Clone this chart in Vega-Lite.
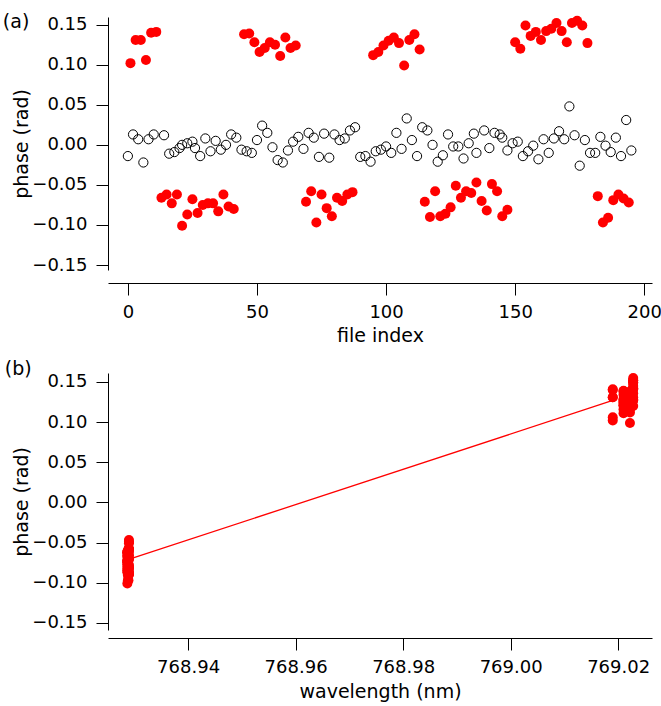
{
  "$schema": "https://vega.github.io/schema/vega-lite/v6.json",
  "background": "white",
  "padding": {"left": 2, "top": 12, "right": 0, "bottom": 5},
  "spacing": 14,
  "config": {
    "font": "DejaVu Sans",
    "view": {"stroke": null},
    "axis": {
      "domainColor": "black", "tickColor": "black", "labelColor": "black", "titleColor": "black",
      "labelFont": "DejaVu Sans", "titleFont": "DejaVu Sans",
      "labelFontSize": 18, "titleFontSize": 19, "titleFontWeight": "normal",
      "tickSize": 12, "grid": false, "domainWidth": 1, "tickWidth": 1
    },
    "title": {"fontSize": 19, "fontWeight": "normal", "font": "DejaVu Sans", "color": "black", "anchor": "start", "frame": "bounds", "offset": 0}
  },
  "datasets": {
    "black": [
      {"file": 0, "phase": -0.014}, {"file": 2, "phase": 0.013}, {"file": 4, "phase": 0.007}, {"file": 6, "phase": -0.022},
      {"file": 8, "phase": 0.007}, {"file": 10, "phase": 0.013}, {"file": 14, "phase": 0.012}, {"file": 16, "phase": -0.011},
      {"file": 18, "phase": -0.009}, {"file": 20, "phase": -0.004}, {"file": 21, "phase": 0.0}, {"file": 23, "phase": 0.002},
      {"file": 25, "phase": 0.004}, {"file": 26, "phase": -0.004}, {"file": 28, "phase": -0.014}, {"file": 30, "phase": 0.008},
      {"file": 32, "phase": -0.008}, {"file": 34, "phase": 0.005}, {"file": 36, "phase": -0.006}, {"file": 38, "phase": 0.0},
      {"file": 40, "phase": 0.013}, {"file": 42, "phase": 0.009}, {"file": 44, "phase": -0.006}, {"file": 46, "phase": -0.008},
      {"file": 48, "phase": -0.01}, {"file": 50, "phase": 0.006}, {"file": 52, "phase": 0.024}, {"file": 54, "phase": 0.015},
      {"file": 56, "phase": -0.003}, {"file": 58, "phase": -0.019}, {"file": 60, "phase": -0.022}, {"file": 62, "phase": -0.007},
      {"file": 64, "phase": 0.004}, {"file": 66, "phase": 0.01}, {"file": 68, "phase": -0.005}, {"file": 70, "phase": 0.015},
      {"file": 72, "phase": 0.009}, {"file": 74, "phase": -0.015}, {"file": 76, "phase": 0.014}, {"file": 78, "phase": -0.016},
      {"file": 80, "phase": 0.013}, {"file": 82, "phase": 0.006}, {"file": 84, "phase": 0.008}, {"file": 86, "phase": 0.018},
      {"file": 88, "phase": 0.022}, {"file": 90, "phase": -0.015}, {"file": 92, "phase": -0.014}, {"file": 94, "phase": -0.021},
      {"file": 96, "phase": -0.008}, {"file": 98, "phase": -0.006}, {"file": 100, "phase": -0.002}, {"file": 102, "phase": -0.01},
      {"file": 104, "phase": 0.015}, {"file": 106, "phase": -0.005}, {"file": 108, "phase": 0.033}, {"file": 110, "phase": 0.006},
      {"file": 112, "phase": -0.014}, {"file": 114, "phase": 0.022}, {"file": 116, "phase": 0.018}, {"file": 118, "phase": 0.0},
      {"file": 120, "phase": -0.021}, {"file": 122, "phase": -0.013}, {"file": 124, "phase": 0.013}, {"file": 126, "phase": -0.002},
      {"file": 128, "phase": -0.002}, {"file": 130, "phase": -0.017}, {"file": 132, "phase": 0.002}, {"file": 134, "phase": 0.014},
      {"file": 135, "phase": -0.01}, {"file": 138, "phase": 0.018}, {"file": 140, "phase": -0.004}, {"file": 142, "phase": 0.015},
      {"file": 144, "phase": 0.013}, {"file": 145, "phase": 0.009}, {"file": 147, "phase": -0.007}, {"file": 149, "phase": 0.002},
      {"file": 151, "phase": 0.004}, {"file": 153, "phase": -0.014}, {"file": 155, "phase": -0.008}, {"file": 157, "phase": -0.001},
      {"file": 159, "phase": -0.018}, {"file": 161, "phase": 0.007}, {"file": 163, "phase": -0.01}, {"file": 165, "phase": 0.008},
      {"file": 167, "phase": 0.017}, {"file": 169, "phase": 0.007}, {"file": 171, "phase": 0.048}, {"file": 173, "phase": 0.012},
      {"file": 175, "phase": -0.026}, {"file": 177, "phase": 0.006}, {"file": 179, "phase": -0.01}, {"file": 181, "phase": -0.01},
      {"file": 183, "phase": 0.01}, {"file": 185, "phase": -0.001}, {"file": 187, "phase": -0.009}, {"file": 189, "phase": 0.009},
      {"file": 191, "phase": -0.014}, {"file": 193, "phase": 0.031}, {"file": 195, "phase": -0.007}
    ],
    "red": [
      {"file": 1, "phase": 0.102, "wavelength": 769.019}, {"file": 3, "phase": 0.131, "wavelength": 769.019},
      {"file": 5, "phase": 0.131, "wavelength": 769.019}, {"file": 7, "phase": 0.106, "wavelength": 769.019},
      {"file": 9, "phase": 0.14, "wavelength": 769.019}, {"file": 11, "phase": 0.141, "wavelength": 769.019},
      {"file": 13, "phase": -0.066, "wavelength": 768.9287}, {"file": 15, "phase": -0.062, "wavelength": 768.9287},
      {"file": 17, "phase": -0.073, "wavelength": 768.9287}, {"file": 19, "phase": -0.062, "wavelength": 768.9287},
      {"file": 21, "phase": -0.101, "wavelength": 768.9287}, {"file": 23, "phase": -0.087, "wavelength": 768.9287},
      {"file": 25, "phase": -0.068, "wavelength": 768.9287}, {"file": 27, "phase": -0.085, "wavelength": 768.9287},
      {"file": 29, "phase": -0.075, "wavelength": 768.9287}, {"file": 31, "phase": -0.073, "wavelength": 768.9287},
      {"file": 33, "phase": -0.073, "wavelength": 768.9287}, {"file": 35, "phase": -0.083, "wavelength": 768.9287},
      {"file": 37, "phase": -0.062, "wavelength": 768.9287}, {"file": 39, "phase": -0.077, "wavelength": 768.9287},
      {"file": 41, "phase": -0.08, "wavelength": 768.9287},
      {"file": 45, "phase": 0.138, "wavelength": 769.021}, {"file": 47, "phase": 0.139, "wavelength": 769.021},
      {"file": 49, "phase": 0.128, "wavelength": 769.021}, {"file": 51, "phase": 0.116, "wavelength": 769.021},
      {"file": 53, "phase": 0.121, "wavelength": 769.021}, {"file": 55, "phase": 0.128, "wavelength": 769.021},
      {"file": 57, "phase": 0.125, "wavelength": 769.021}, {"file": 59, "phase": 0.111, "wavelength": 769.021},
      {"file": 61, "phase": 0.134, "wavelength": 769.021}, {"file": 63, "phase": 0.121, "wavelength": 769.021},
      {"file": 65, "phase": 0.124, "wavelength": 769.021},
      {"file": 69, "phase": -0.071, "wavelength": 768.9289}, {"file": 71, "phase": -0.058, "wavelength": 768.9289},
      {"file": 73, "phase": -0.097, "wavelength": 768.9289}, {"file": 75, "phase": -0.062, "wavelength": 768.9289},
      {"file": 77, "phase": -0.079, "wavelength": 768.9289}, {"file": 79, "phase": -0.089, "wavelength": 768.9289},
      {"file": 81, "phase": -0.066, "wavelength": 768.9289}, {"file": 83, "phase": -0.07, "wavelength": 768.9289},
      {"file": 85, "phase": -0.062, "wavelength": 768.9289}, {"file": 87, "phase": -0.059, "wavelength": 768.9289},
      {"file": 95, "phase": 0.112, "wavelength": 769.0222}, {"file": 97, "phase": 0.116, "wavelength": 769.0222},
      {"file": 99, "phase": 0.124, "wavelength": 769.0222}, {"file": 101, "phase": 0.13, "wavelength": 769.0222},
      {"file": 103, "phase": 0.134, "wavelength": 769.0222}, {"file": 105, "phase": 0.127, "wavelength": 769.0222},
      {"file": 107, "phase": 0.099, "wavelength": 769.0222}, {"file": 109, "phase": 0.131, "wavelength": 769.0222},
      {"file": 111, "phase": 0.138, "wavelength": 769.0222}, {"file": 113, "phase": 0.119, "wavelength": 769.0222},
      {"file": 115, "phase": -0.071, "wavelength": 768.929}, {"file": 117, "phase": -0.09, "wavelength": 768.929},
      {"file": 119, "phase": -0.058, "wavelength": 768.929}, {"file": 121, "phase": -0.089, "wavelength": 768.929},
      {"file": 123, "phase": -0.086, "wavelength": 768.929}, {"file": 125, "phase": -0.078, "wavelength": 768.929},
      {"file": 127, "phase": -0.051, "wavelength": 768.929}, {"file": 129, "phase": -0.066, "wavelength": 768.929},
      {"file": 131, "phase": -0.058, "wavelength": 768.929}, {"file": 133, "phase": -0.06, "wavelength": 768.929},
      {"file": 135, "phase": -0.047, "wavelength": 768.929}, {"file": 137, "phase": -0.07, "wavelength": 768.929},
      {"file": 139, "phase": -0.082, "wavelength": 768.929}, {"file": 141, "phase": -0.049, "wavelength": 768.929},
      {"file": 143, "phase": -0.058, "wavelength": 768.929}, {"file": 145, "phase": -0.089, "wavelength": 768.929},
      {"file": 147, "phase": -0.081, "wavelength": 768.929},
      {"file": 150, "phase": 0.128, "wavelength": 769.0228}, {"file": 152, "phase": 0.12, "wavelength": 769.0228},
      {"file": 154, "phase": 0.149, "wavelength": 769.0228}, {"file": 156, "phase": 0.136, "wavelength": 769.0228},
      {"file": 158, "phase": 0.141, "wavelength": 769.0228}, {"file": 160, "phase": 0.131, "wavelength": 769.0228},
      {"file": 162, "phase": 0.142, "wavelength": 769.0228}, {"file": 164, "phase": 0.145, "wavelength": 769.0228},
      {"file": 166, "phase": 0.152, "wavelength": 769.0228}, {"file": 168, "phase": 0.142, "wavelength": 769.0228},
      {"file": 170, "phase": 0.128, "wavelength": 769.0228}, {"file": 172, "phase": 0.152, "wavelength": 769.0228},
      {"file": 174, "phase": 0.155, "wavelength": 769.0228}, {"file": 176, "phase": 0.149, "wavelength": 769.0228},
      {"file": 178, "phase": 0.127, "wavelength": 769.0228},
      {"file": 182, "phase": -0.064, "wavelength": 768.9288}, {"file": 184, "phase": -0.097, "wavelength": 768.9288},
      {"file": 186, "phase": -0.091, "wavelength": 768.9288}, {"file": 188, "phase": -0.069, "wavelength": 768.9288},
      {"file": 190, "phase": -0.062, "wavelength": 768.9288}, {"file": 192, "phase": -0.067, "wavelength": 768.9288},
      {"file": 194, "phase": -0.072, "wavelength": 768.9288}
    ],
    "fit": [
      {"wavelength": 768.9288, "phase": -0.0714},
      {"wavelength": 769.019, "phase": 0.127}
    ]
  },
  "vconcat": [
    {
      "width": 544,
      "height": 253,
      "title": {"text": "(a)", "dx": -10, "dy": 20},
      "layer": [
        {
          "data": {"name": "black"},
          "mark": {"type": "point", "shape": "circle", "filled": false, "stroke": "black", "strokeWidth": 1, "size": 85, "opacity": 1},
          "encoding": {
            "x": {"field": "file", "type": "quantitative",
              "scale": {"domain": [-7.7, 203], "nice": false, "zero": false},
              "axis": {"values": [0, 50, 100, 150, 200], "title": "file index", "offset": 13, "labelPadding": 8, "titlePadding": 5}},
            "y": {"field": "phase", "type": "quantitative",
              "scale": {"domain": [-0.1562, 0.1596], "nice": false, "zero": false},
              "axis": {"values": [-0.15, -0.1, -0.05, 0, 0.05, 0.1, 0.15], "format": ".2f", "title": "phase (rad)", "labelPadding": 9, "titlePadding": 0}}
          }
        },
        {
          "data": {"name": "red"},
          "mark": {"type": "circle", "color": "#ff0000", "opacity": 1, "size": 100},
          "encoding": {
            "x": {"field": "file", "type": "quantitative"},
            "y": {"field": "phase", "type": "quantitative"}
          }
        }
      ]
    },
    {
      "width": 544,
      "height": 257,
      "title": {"text": "(b)", "dx": -8, "dy": 10},
      "layer": [
        {
          "mark": {"type": "rule", "color": "black", "strokeWidth": 1},
          "encoding": {"y": {"datum": 0, "type": "quantitative"}}
        },
        {
          "data": {"name": "fit"},
          "mark": {"type": "line", "color": "#ff0000", "strokeWidth": 1.3},
          "encoding": {
            "x": {"field": "wavelength", "type": "quantitative"},
            "y": {"field": "phase", "type": "quantitative"}
          }
        },
        {
          "data": {"name": "red"},
          "mark": {"type": "circle", "color": "#ff0000", "opacity": 1, "size": 100},
          "encoding": {
            "x": {"field": "wavelength", "type": "quantitative",
              "scale": {"domain": [768.9251, 769.0263], "nice": false, "zero": false},
              "axis": {"values": [768.94, 768.96, 768.98, 769.0, 769.02], "format": ".2f", "title": "wavelength (nm)", "offset": 8, "labelPadding": 8, "titlePadding": 6}},
            "y": {"field": "phase", "type": "quantitative",
              "scale": {"domain": [-0.159, 0.1612], "nice": false, "zero": false},
              "axis": {"values": [-0.15, -0.1, -0.05, 0, 0.05, 0.1, 0.15], "format": ".2f", "title": "phase (rad)", "labelPadding": 9, "titlePadding": 0}}
          }
        }
      ]
    }
  ]
}
